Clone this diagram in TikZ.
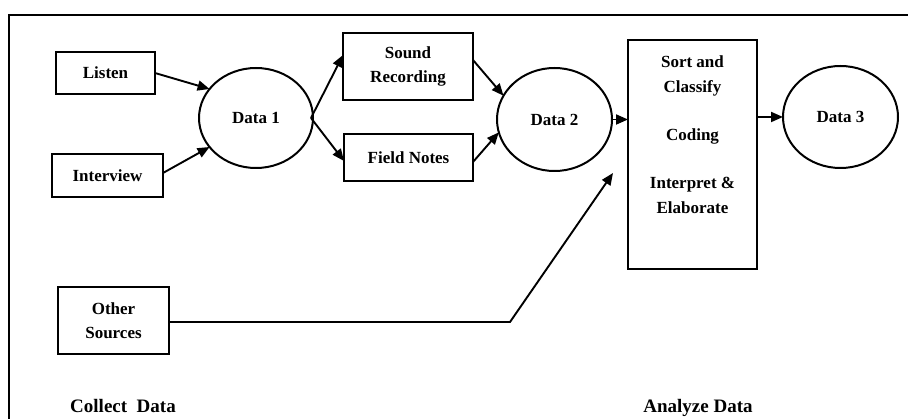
\documentclass[tikz,border=0pt]{standalone}
\usepackage{fontspec}
\setmainfont{Liberation Serif}
\usetikzlibrary{shapes.geometric,arrows.meta,calc}
\tikzset{
  box/.style={draw, line width=2pt, rectangle, inner sep=0pt, outer sep=0pt, align=center,
    font=\fontsize{17}{24.5}\selectfont\bfseries},
  oval/.style={draw, line width=2pt, ellipse, inner sep=0pt, outer sep=0pt,
    font=\fontsize{17}{24}\selectfont\bfseries},
  lbl/.style={inner sep=0pt, align=center, font=\fontsize{17}{24.2}\selectfont\bfseries},
  biglbl/.style={inner sep=0pt, font=\fontsize{19}{24}\selectfont\bfseries},
  arr/.style={line width=1.9pt, -{Triangle[length=12pt,width=10pt]}},
  frameline/.style={line width=2.4pt}
}
\begin{document}
\begin{tikzpicture}[x=1pt,y=-1pt]
\useasboundingbox (0,0) rectangle (908,419);
% frame
\coordinate (ftr) at (908,15);
\coordinate (ftl) at (9,15);
\coordinate (fbl) at (9,419);
\draw[frameline] (ftr) -- (ftl) -- (fbl);
% nodes
\node[box, minimum width=99pt, minimum height=42pt] (listen) at (105.5,73) {Listen};
\node[box, minimum width=111pt, minimum height=43pt] (interview) at (107.5,175.5) {Interview};
\node[oval, minimum width=114pt, minimum height=100pt] (d1) at (256,118) {Data 1};
\node[box, minimum width=130pt, minimum height=67pt] (sound) at (408,66.5) {Sound\\Recording};
\node[box, minimum width=129pt, minimum height=47pt] (field) at (408.5,157.5) {Field Notes};
\node[oval, minimum width=115pt, minimum height=103pt] (d2) at (554.5,119.5) {Data 2};
\node[box, minimum width=129pt, minimum height=229pt] (proc) at (692.5,154.5) {};
\node[lbl, anchor=north] (proctext) at (692.5,56) {Sort and\\Classify\\[24.2pt]Coding\\[24.2pt]Interpret \&\\Elaborate};
\node[oval, minimum width=115pt, minimum height=102pt] (d3) at (840.5,117) {Data 3};
\node[box, minimum width=111pt, minimum height=67pt] (other) at (113.5,320.5) {Other\\Sources};
\node[biglbl, anchor=base] (collect) at (123,413) {Collect\ \ Data};
\node[biglbl, anchor=base] (analyze) at (698,413) {Analyze Data};
% connectors
\draw[arr] (listen.east) -- (d1.148);
\draw[arr] ([yshift=2.5pt]interview.east) -- (d1.212);
\coordinate (d1o) at ($(d1.east)+(-2,0)$);
\draw[arr] (d1o) -- ([yshift=11.5pt]sound.west);
\draw[arr] (d1o) -- ([yshift=-3.5pt]field.west);
\draw[arr] ([yshift=6.5pt]sound.east) -- (d2.155);
\draw[arr] ([yshift=-4.5pt]field.east) -- (d2.193);
\draw[arr] (d2.east) -- (d2.east -| proc.west);
\draw[arr] (proc.east |- d3.west) -- (d3.west);
\coordinate (obend) at (510,322);
\coordinate (otip) at (613,173);
\draw[arr] ([yshift=-1.5pt]other.east) -- (obend) -- (otip);
\end{tikzpicture}
\end{document}
